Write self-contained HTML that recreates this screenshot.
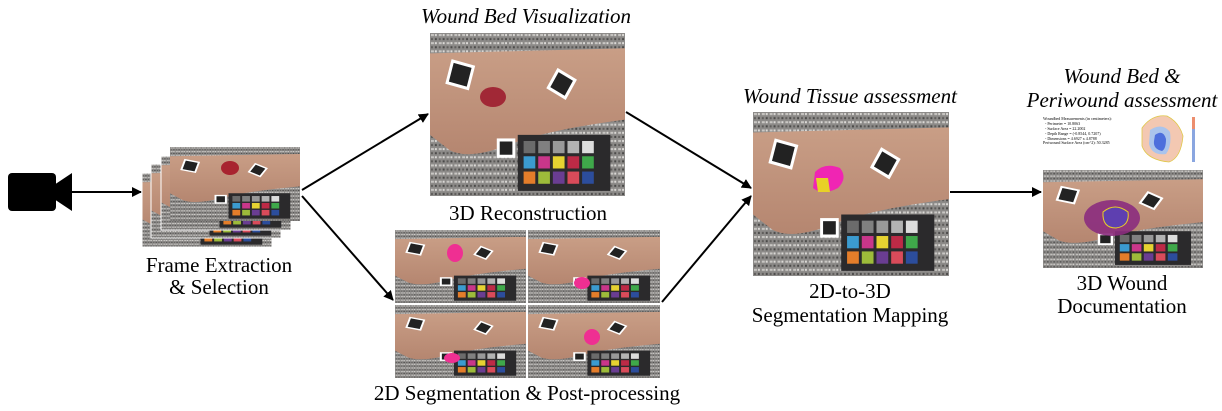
<!DOCTYPE html>
<html><head><meta charset="utf-8"><style>
html,body{margin:0;padding:0;background:#fff}
svg{display:block}
text{font-family:"Liberation Serif",serif;fill:#000}
</style></head><body>
<svg width="1222" height="411" viewBox="0 0 1222 411" xmlns="http://www.w3.org/2000/svg">
<defs>
<marker id="ah" markerWidth="10" markerHeight="10" refX="9" refY="5" orient="auto" markerUnits="userSpaceOnUse">
<path d="M0,0 L10,5 L0,10 z" fill="#000"/></marker>
<linearGradient id="skin" x1="0" y1="0" x2="0" y2="1">
<stop offset="0" stop-color="#c99e86"/><stop offset="1" stop-color="#b58670"/></linearGradient>
<pattern id="gran" width="8" height="8" patternUnits="userSpaceOnUse">
<rect width="8" height="8" fill="#8c8a88"/><rect x="1" y="1" width="3" height="2" fill="#c9c7c4"/><rect x="5" y="5" width="2" height="2" fill="#4a4948"/><rect x="5" y="1" width="2" height="2" fill="#dcdad7"/><rect x="1" y="5" width="2" height="2" fill="#5e5c5a"/>
</pattern>
<symbol id="photo" viewBox="0 0 200 160" preserveAspectRatio="none">
<rect width="200" height="160" fill="url(#gran)"/>
<path d="M0,20 L200,15 L200,85 Q120,95 80,110 Q40,125 20,115 L0,100 z" fill="url(#skin)"/>
<rect x="90" y="100" width="95" height="55" fill="#2b2a2c"/>
<g>
<rect x="96" y="106" width="12" height="12" fill="#6b6b6b"/><rect x="111" y="106" width="12" height="12" fill="#808080"/><rect x="126" y="106" width="12" height="12" fill="#999"/><rect x="141" y="106" width="12" height="12" fill="#b3b3b3"/><rect x="156" y="106" width="12" height="12" fill="#ddd"/>
<rect x="96" y="121" width="12" height="12" fill="#3b9bd0"/><rect x="111" y="121" width="12" height="12" fill="#c9368a"/><rect x="126" y="121" width="12" height="12" fill="#e6d231"/><rect x="141" y="121" width="12" height="12" fill="#bd2a46"/><rect x="156" y="121" width="12" height="12" fill="#3fa84a"/>
<rect x="96" y="136" width="12" height="12" fill="#e47d2a"/><rect x="111" y="136" width="12" height="12" fill="#9dbb3a"/><rect x="126" y="136" width="12" height="12" fill="#6a3d92"/><rect x="141" y="136" width="12" height="12" fill="#d94b5a"/><rect x="156" y="136" width="12" height="12" fill="#2c4d9c"/>
</g>
<rect x="20" y="30" width="22" height="22" fill="#222" stroke="#fff" stroke-width="3" transform="rotate(15 31 41)"/>
<rect x="125" y="40" width="20" height="20" fill="#222" stroke="#fff" stroke-width="3" transform="rotate(30 135 50)"/>
<rect x="70" y="105" width="16" height="16" fill="#222" stroke="#fff" stroke-width="3"/>
</symbol>
</defs>

<!-- camera -->
<rect x="8" y="173" width="48" height="38" rx="4" fill="#000"/>
<path d="M54,185 L72,173 L72,211 L54,199 z" fill="#000"/>
<line x1="72" y1="192" x2="141" y2="192" stroke="#000" stroke-width="2" marker-end="url(#ah)"/>

<!-- frame stack -->
<use href="#photo" x="142" y="173" width="130" height="74"/>
<rect x="142" y="173" width="130" height="74" fill="none" stroke="#fff" stroke-width="1"/>
<use href="#photo" x="151" y="164" width="130" height="74"/>
<rect x="151" y="164" width="130" height="74" fill="none" stroke="#fff" stroke-width="1"/>
<use href="#photo" x="161" y="156" width="130" height="74"/>
<rect x="161" y="156" width="130" height="74" fill="none" stroke="#fff" stroke-width="1"/>
<use href="#photo" x="170" y="147" width="130" height="74"/>
<ellipse cx="230" cy="168" rx="9" ry="7" fill="#a8232f"/>
<text x="219" y="272" font-size="21" text-anchor="middle">Frame Extraction</text>
<text x="219" y="294" font-size="21" text-anchor="middle">&amp; Selection</text>

<line x1="302" y1="190" x2="428" y2="114" stroke="#000" stroke-width="2" marker-end="url(#ah)"/>
<line x1="302" y1="196" x2="393" y2="300" stroke="#000" stroke-width="2" marker-end="url(#ah)"/>

<!-- 3D recon -->
<text x="526" y="23" font-size="21" font-style="italic" text-anchor="middle">Wound Bed Visualization</text>
<use href="#photo" x="430" y="33" width="195" height="163"/>
<ellipse cx="493" cy="97" rx="13" ry="10" fill="#a12836"/>
<text x="528" y="220" font-size="21" text-anchor="middle">3D Reconstruction</text>

<!-- seg grid -->
<use href="#photo" x="395" y="230" width="131" height="73"/>
<use href="#photo" x="528" y="230" width="132" height="73"/>
<use href="#photo" x="395" y="305" width="131" height="73"/>
<use href="#photo" x="528" y="305" width="132" height="73"/>
<ellipse cx="455" cy="253" rx="8" ry="9" fill="#ef2f92"/>
<ellipse cx="582" cy="283" rx="8" ry="6" fill="#ef2f92"/>
<ellipse cx="452" cy="358" rx="8" ry="5" fill="#ef2f92"/>
<ellipse cx="592" cy="337" rx="8" ry="8" fill="#ef2f92"/>
<text x="527" y="400" font-size="21" text-anchor="middle">2D Segmentation &amp; Post-processing</text>

<line x1="626" y1="112" x2="751" y2="188" stroke="#000" stroke-width="2" marker-end="url(#ah)"/>
<line x1="662" y1="302" x2="751" y2="196" stroke="#000" stroke-width="2" marker-end="url(#ah)"/>

<!-- tissue -->
<text x="850" y="103" font-size="21" font-style="italic" text-anchor="middle">Wound Tissue assessment</text>
<use href="#photo" x="753" y="112" width="196" height="164"/>
<path d="M815,172 q10,-10 25,-4 q8,10 -2,20 q-15,8 -25,0 z" fill="#f025b3"/>
<path d="M816,178 l12,0 l2,14 l-12,0 z" fill="#e8d126"/>
<text x="850" y="298" font-size="21" text-anchor="middle">2D-to-3D</text>
<text x="850" y="322" font-size="21" text-anchor="middle">Segmentation Mapping</text>

<line x1="950" y1="192" x2="1041" y2="192" stroke="#000" stroke-width="2" marker-end="url(#ah)"/>

<!-- right -->
<text x="1122" y="83" font-size="21" font-style="italic" text-anchor="middle">Wound Bed &amp;</text>
<text x="1122" y="107" font-size="21" font-style="italic" text-anchor="middle">Periwound assessment</text>
<g fill="#555">
<text x="1043" y="120" font-size="4">Woundbed Measurements (in centimeters):</text>
<text x="1045" y="125" font-size="4">- Perimeter = 10.8063</text>
<text x="1045" y="130" font-size="4">- Surface Area = 22.2002</text>
<text x="1045" y="135" font-size="4">- Depth Range = (-0.8544, 0.7207)</text>
<text x="1045" y="140" font-size="4">- Dimensions = 4.6927 x 4.8788</text>
<text x="1043" y="144" font-size="4">Periwound Surface Area (cm^2): 50.3285</text>
</g>
<path d="M1142,128 q10,-14 25,-12 q12,6 16,20 q-2,22 -14,26 q-22,-2 -27,-16 z" fill="#f3c8b2" stroke="#e0c84a" stroke-width="0.8"/>
<path d="M1150,130 q12,-8 20,2 q2,14 -4,22 q-14,2 -17,-10 z" fill="#aac4ec"/>
<path d="M1155,135 q8,-6 11,4 q0,10 -4,12 q-9,-2 -8,-10 z" fill="#4d6fdc"/>
<rect x="1192" y="117" width="3" height="45" fill="#8aa6e0"/>
<rect x="1192" y="117" width="3" height="12" fill="#ec8e6e"/>
<use href="#photo" x="1043" y="170" width="160" height="98"/>
<ellipse cx="1112" cy="218" rx="28" ry="18" fill="#8b2c7e" opacity="0.9"/>
<path d="M1103,212 q12,-10 25,0 q2,14 -12,16 q-14,0 -13,-16 z" fill="#5e3fb0" stroke="#e8d126" stroke-width="1"/>
<text x="1122" y="290" font-size="21" text-anchor="middle">3D Wound</text>
<text x="1122" y="313" font-size="21" text-anchor="middle">Documentation</text>
</svg>
</body></html>
